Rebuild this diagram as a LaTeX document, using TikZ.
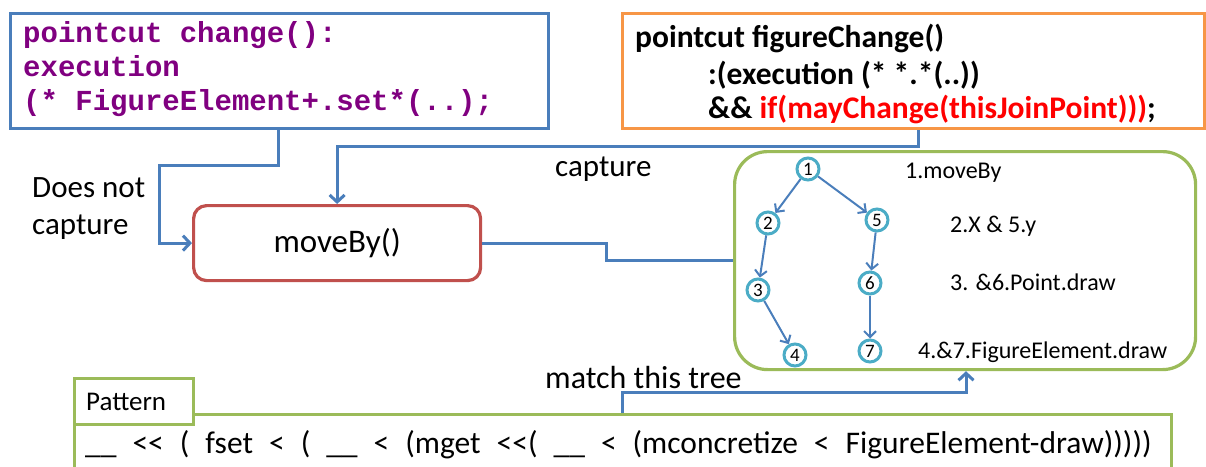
\documentclass[tikz,border=0pt]{standalone}
\usepackage{fontspec}
\setmainfont{Carlito}
\newfontfamily\codefont{Liberation Mono}
\usetikzlibrary{arrows.meta}
\definecolor{blueln}{HTML}{4A7EBB}
\definecolor{redbox}{HTML}{C0504D}
\definecolor{greenbox}{HTML}{9BBB59}
\definecolor{orangebox}{HTML}{F79646}
\definecolor{codepurple}{HTML}{800080}
\definecolor{cyanring}{HTML}{4BACC6}
\definecolor{redtext}{HTML}{FF0000}
\tikzset{
  box/.style={draw, line width=3.2pt, anchor=north west, inner sep=0pt},
  conn/.style={draw=blueln, line width=3pt},
  bigtip/.style={-{Straight Barb[length=7pt,width=15pt,line width=3pt]}},
  treeedge/.style={draw=blueln, line width=2pt, -{Straight Barb[length=6pt,width=12pt,line width=2pt]}},
  tnode/.style={circle, draw=cyanring, line width=3pt, fill=white, minimum size=22pt, inner sep=0pt, font=\fontsize{19}{19}\selectfont},
  lbl/.style={anchor=base west, inner sep=0pt},
  codetxt/.style={lbl, text=codepurple, font=\codefont\bfseries\fontsize{29}{34}\selectfont},
  ortxt/.style={lbl, font=\bfseries\fontsize{31.5}{35}\selectfont},
  big/.style={font=\fontsize{31}{36}\selectfont},
  tlbl/.style={lbl, font=\fontsize{24}{28}\selectfont},
}
\begin{document}
\begin{tikzpicture}[x=1pt,y=-1pt]
\useasboundingbox (0,0) rectangle (1206,466);
\clip (0,0) rectangle (1206,466);
% boxes
\node[box, draw=blueln, minimum width=538pt, minimum height=115pt] (blue) at (9,12) {};
\node[box, draw=orangebox, minimum width=582pt, minimum height=115pt] (orange) at (621,12) {};
\node[box, draw=redbox, rounded corners=13pt, minimum width=287pt, minimum height=75pt] (moveby) at (192,204) {};
\node[box, draw=greenbox, rounded corners=33pt, minimum width=461pt, minimum height=218pt] (green) at (733,150) {};
\node[box, draw=greenbox, minimum width=1097pt, minimum height=70pt] (long) at (73,413) {};
\node[box, draw=greenbox, fill=white, minimum width=119pt, minimum height=46pt] (tab) at (73,377) {};
% code text
\node[codetxt] (c1) at (23,42) {pointcut change():};
\node[codetxt] (c2) at (23,76) {execution};
\node[codetxt] (c3) at (23,110) {(* FigureElement+.set*(..);};
\node[ortxt] (o1) at (635,47) {pointcut figureChange()};
\node[ortxt] (o2) at (708,84) {:(execution (* *.*(..))};
\node[ortxt] (o3) at (708,118) {\&\& \textcolor{redtext}{if(mayChange(thisJoinPoint)))};};
% labels
\node[lbl, big] (dn1) at (32,197) {Does not};
\node[lbl, big] (dn2) at (32,234) {capture};
\node[lbl, big] (cap) at (555,176) {capture};
\node[font=\fontsize{33}{36}\selectfont] (mbt) at (moveby.center) {moveBy()};
\node[lbl, font=\fontsize{27}{30}\selectfont] (pat) at (86,410) {Pattern};
\node[lbl, font=\fontsize{32}{36}\selectfont] (mtt) at (545,388) {match this tree};
\node[lbl, font=\fontsize{31.5}{36}\selectfont] (formula) at (85,453) {\spaceskip=16pt\relax \_\_ <{}< ( fset < ( \_\_ < (mget <{}<( \_\_ < (mconcretize < FigureElement-draw)))))};
% tree
\node[tnode] (n1) at (808,169) {1};
\node[tnode] (n2) at (768,223) {2};
\node[tnode] (n5) at (877,220) {5};
\node[tnode] (n3) at (758,290) {3};
\node[tnode] (n6) at (870,283) {6};
\node[tnode] (n4) at (795,355) {4};
\node[tnode] (n7) at (870,351) {7};
\draw[treeedge] (n1) -- (n2);
\draw[treeedge] (n1) -- (n5);
\draw[treeedge] (n2) -- (n3);
\draw[treeedge] (n3) -- (n4);
\draw[treeedge] (n5) -- (n6);
\draw[treeedge] (n6) -- (n7);
\node[tlbl] (t1) at (905,178) {1.moveBy};
\node[tlbl] (t2) at (950,232) {2.X \& 5.y};
\node[tlbl] (t3) at (950,290) {3. \&6.Point.draw};
\node[tlbl] (t4) at (918,358) {4.\&7.FigureElement.draw};
% connectors
\coordinate (k1) at (278,165);
\coordinate (k2) at (159,242);
\coordinate (k3) at (918,146);
\coordinate (k5) at (606,259);
\coordinate (k6) at (622,392);
\coordinate (k8) at (966,392);
\draw[conn, bigtip] (blue.south -| k1) -- (k1) -| (k2) |- (moveby.west);
\draw[conn, bigtip] (orange.south -| k3) -- (k3) -| (moveby.north);
\draw[conn] (moveby.east) -| (k5) |- (green.west);
\draw[conn, bigtip] (long.north -| k6) -- (k6) -| (green.south -| k8);
\end{tikzpicture}
\end{document}
